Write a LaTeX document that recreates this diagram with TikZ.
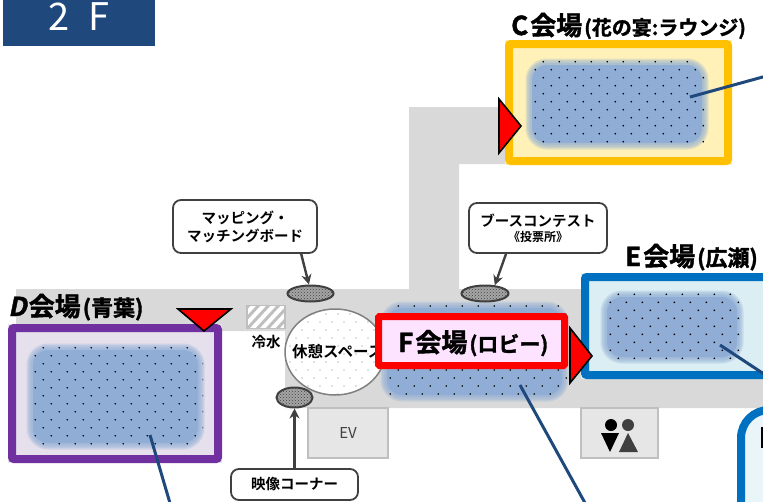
\documentclass[tikz,border=0pt]{standalone}
\usepackage{fontspec}
\setmainfont{Noto Sans CJK JP}[BoldFont={Noto Sans CJK JP Bold}]
\newfontfamily\heavyfont{Noto Sans CJK JP Bold}[FakeBold=1.6]
\newfontfamily\slantfont{Noto Sans CJK JP Bold}[FakeBold=1.6,FakeSlant=.2]
\usetikzlibrary{shapes.geometric,arrows.meta,patterns}

\newcommand{\bluefield}[7]{%
	\foreach \w in {13,10,7,4}
		\draw[fieldblue,opacity=.28,line width=\w pt,rounded corners=15pt] (#1+5,#2+5) rectangle (#3-5,#4-5);
	\fill[fieldblue,rounded corners=15pt] (#1+5,#2+5) rectangle (#3-5,#4-5);
	\begin{scope}
		\clip[rounded corners=15pt] (#1,#2) rectangle (#3,#4);
		\foreach \r in {0,...,#7}
			\foreach \c in {0,...,13} {
				\pgfmathsetmacro{\dx}{#5+16*\c-8*mod(\r,2)}
				\pgfmathsetmacro{\dy}{#6+8*\r}
				\fill (\dx,\dy) circle (.9);
			}
	\end{scope}}
\newcommand{\roomtitle}[4]{{\fontsize{26}{26}\selectfont #1\hspace{2pt}#2}{\hspace{2pt}\heavyfont\fontsize{#4}{#4}\selectfont #3}}

\begin{document}
\begin{tikzpicture}
			[x=1pt,y=-1pt,line cap=round,
			%Styles
			room/.style={draw=#1,line width=8pt,rounded corners=2pt,line cap=butt},
			entry/.style={fill=red,draw=black,line width=1.6pt,line join=miter},
			leader/.style={draw=leaderblue,line width=3pt,line cap=butt},
			spot/.style={ellipse,draw=darkline,line width=2pt,preaction={fill=spotgrey},pattern=crosshatch dots,pattern color=darkline,inner sep=0pt},
			callout/.style={draw=darkline,line width=1.8pt,fill=white,rounded corners=8pt,align=center,font=\bfseries\fontsize{14.5}{18}\selectfont,inner sep=0pt},
			pointer/.style={draw=darkline,line width=2.4pt,-{Stealth[length=10pt,width=10pt]},line cap=butt},
			plainbox/.style={draw=boxedge,line width=1.5pt,fill=boxgrey,inner sep=0pt},
			title/.style={font=\heavyfont,inner sep=0pt,anchor=base west}
			]
			
			%Colors
			\definecolor{hallgrey}{HTML}{D9D9D9}
			\definecolor{fieldblue}{HTML}{8FADD5}
			\definecolor{leaderblue}{HTML}{1F497D}
			\definecolor{darkline}{HTML}{404040}
			\definecolor{spotgrey}{HTML}{A6A6A6}
			\definecolor{boxedge}{HTML}{BFBFBF}
			\definecolor{boxgrey}{HTML}{E6E6E6}
			\definecolor{roomyellow}{HTML}{FFC000}
			\definecolor{roompurple}{HTML}{7030A0}
			\definecolor{roomblue}{HTML}{0070C0}
			\definecolor{paleyellow}{HTML}{FFF1B8}
			\definecolor{palepurple}{HTML}{E6E0EC}
			\definecolor{paleblue}{HTML}{DAEEF3}
			\definecolor{palepink}{HTML}{FDE3FF}
			
			\useasboundingbox (0,0) rectangle (763,501);
			\clip (0,0) rectangle (763,501);
			
			%The graphic
			\fill[leaderblue] (3,0) rectangle (155,46);
			\node[text=white,inner sep=0pt,font=\fontsize{38}{38}\selectfont] (floor) at (79,17) {2\hspace{18pt}F};
			
			%Corridors
			\fill[hallgrey] (16,289) -- (409,289) -- (409,107) -- (510,107) -- (510,164) -- (459,164) -- (459,289) -- (763,289) -- (763,408) -- (285,408) -- (285,331) -- (16,331) -- cycle;
			
			%Rooms
			\fill[paleyellow] (505,40) rectangle (732,165);
			\draw[room=roomyellow] (509,44) rectangle (728,161);
			\bluefield{527}{60}{707}{148}{543.3}{61.7}{10}
			
			\fill[palepurple] (8,324) rectangle (222,463);
			\draw[room=roompurple] (12,328) rectangle (218,459);
			\bluefield{28}{345}{203}{448}{43.3}{347.7}{12}
			
			\fill[paleblue] (581,273) rectangle (770,379);
			\draw[room=roomblue] (585,277) rectangle (770,375);
			\bluefield{602}{292}{742}{362}{618.3}{294.3}{8}
			
			\bluefield{382}{303}{567}{400}{398.3}{306}{11}
			
			\draw[roomblue,line width=8pt,fill=paleblue!60!white,rounded corners=28pt] (741,410) rectangle (830,560);
			\fill[black] (761,427) rectangle (763,448);
			
			%Lounge and water
			\node[ellipse,draw=gray,line width=1.5pt,fill=white,minimum width=100pt,minimum height=86pt,inner sep=0pt] (lounge) at (335,352) {};
			\begin{scope}
				\clip (335,352) ellipse (49 and 42);
				\foreach \r in {0,...,10}
					\foreach \c in {0,...,9} {
						\pgfmathsetmacro{\dx}{290+12*\c-6*mod(\r,2)}
						\pgfmathsetmacro{\dy}{314+8*\r}
						\fill[gray] (\dx,\dy) circle (.6);
					}
			\end{scope}
			\node[font=\bfseries\fontsize{15.5}{15.5}\selectfont,inner sep=0pt,anchor=west] (loungetext) at (292,352) {休憩スペース};
			\node[plainbox,fill=white,minimum width=38pt,minimum height=23pt,path picture={
				\foreach \s in {-50,-40,...,30}
					\draw[boxedge,line width=3pt,line cap=butt] (\s pt,-13pt) -- (\s pt+24pt,13pt);
			}] (water) at (266,317) {};
			\node[font=\bfseries\fontsize{14.5}{14.5}\selectfont,inner sep=0pt] (watertext) at (266,342) {冷水};
			
			%Plain boxes
			\node[plainbox,minimum width=80pt,minimum height=50pt,text=darkline,font=\fontsize{15}{15}\selectfont] (ev) at (348,433) {EV};
			\node[plainbox,minimum width=77pt,minimum height=50pt] (wc) at (619.5,433) {};
			\fill[black] (611,425) circle (6);
			\fill[darkline] (628,425) circle (6);
			\fill[black] (601,433) -- (619,433) -- (610,452) -- cycle;
			\fill[darkline] (628,433) -- (638,452) -- (619,452) -- cycle;
			
			%Leaders
			\coordinate (cfield) at (690,97);
			\coordinate (cend) at (770,75);
			\coordinate (dfield) at (150,435);
			\coordinate (dend) at (172,510);
			\coordinate (ffield) at (520,385);
			\coordinate (fend) at (590,512);
			\coordinate (efield) at (720,345);
			\coordinate (eend) at (770,378);
			\draw[leader] (cfield) -- (cend);
			\draw[leader] (dfield) -- (dend);
			\draw[leader] (ffield) -- (fend);
			\draw[leader] (efield) -- (eend);
			
			%Spots and callouts
			\node[spot,minimum width=46pt,minimum height=16pt] (mapspot) at (310.5,293.5) {};
			\node[spot,minimum width=36pt,minimum height=20pt] (videospot) at (294.5,397.5) {};
			\node[spot,minimum width=47pt,minimum height=16pt] (boothspot) at (485,293.5) {};
			\node[callout,minimum width=144pt,minimum height=53pt] (mapbox) at (245,226.5) {マッピング・\\マッチングボード};
			\node[callout,minimum width=127pt,minimum height=31pt] (videobox) at (294.5,484.5) {映像コーナー};
			\node[callout,minimum width=138pt,minimum height=50pt] (boothbox) at (538,228) {ブースコンテスト\\[-3pt]{\fontsize{12}{13}\selectfont 《投票所》}};
			\draw[pointer] (mapbox.-26.6) -- (mapspot.100);
			\draw[pointer] (videobox.north) -- (videospot.south);
			\draw[pointer] (boothbox.-141) -- (boothspot.40);
			
			%F room label
			\node[draw=red,line width=7pt,fill=palepink,minimum width=186pt,minimum height=49pt,inner sep=0pt,rounded corners=1pt] (froom) at (471.5,341) {};
			
			%Entrances
			\draw[entry] (499,99) -- (521,126) -- (499,153) -- cycle;
			\draw[entry] (178,309) -- (231,309) -- (204,331) -- cycle;
			\draw[entry] (570,328) -- (592,356) -- (570,383) -- cycle;
			
			%Titles
			\node[title] (ctitle) at (511,35) {\roomtitle{C}{会場}{(花の宴:ラウンジ)}{20}};
			\node[title] (dtitle) at (8,316) {\roomtitle{\slantfont D}{\heavyfont 会場}{(青葉)}{22}};
			\node[title] (etitle) at (625,266) {\roomtitle{E}{会場}{(広瀬)}{22}};
			\node[title] (ftitle) at (398,352) {\roomtitle{F}{会場}{(ロビー)}{21}};
		\end{tikzpicture}
\end{document}
